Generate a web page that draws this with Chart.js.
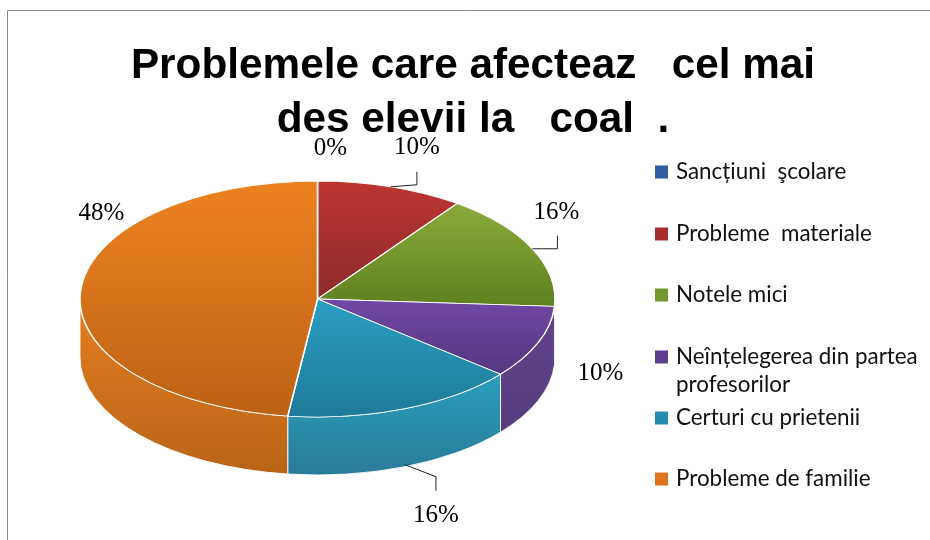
<!DOCTYPE html>
<html><head><meta charset="utf-8">
<style>html,body{margin:0;padding:0;background:#fff}canvas{display:block}</style>
<script src="https://cdn.jsdelivr.net/npm/chart.js@4"></script>
</head><body><canvas id="c" width="930" height="540"></canvas>
<script>
const titleLines = ["Problemele care afecteaz   cel mai", "des elevii la   coal  ."];
const categories = ["Sancțiuni  şcolare", "Probleme  materiale", "Notele mici", "Neînțelegerea din partea profesorilor", "Certuri cu prietenii", "Probleme de familie"];
const values = [0, 10, 16, 10, 16, 48];
const legendLines = [["Sancțiuni  şcolare"], ["Probleme  materiale"], ["Notele mici"], ["Neînțelegerea din partea", "profesorilor"], ["Certuri cu prietenii"], ["Probleme de familie"]];
const topStart = ["#2F5F9E", "#BE3530", "#8BAA3C", "#7048A6", "#2A9EC2", "#EE8220"];
const topEnd = ["#2F5F9E", "#8D2B2B", "#5F8020", "#553780", "#1F7A98", "#BC6214"];
const wallStart = ["#2F5F9E", "#8D2B2B", "#6A8A2A", "#62448E", "#2A9EBE", "#E67E22"];
const wallEnd = ["#2F5F9E", "#8D2B2B", "#5F8020", "#523A7A", "#2A7A98", "#B86418"];
const legendColors = ["#2F5F9E", "#A52F2E", "#76962E", "#5F4090", "#248CAC", "#DD7420"];

const PIE = {cx: 317.5, cy: 299, r: 237.5, squash: 118 / 237.5, depth: 58};
const labelOffsets = [[13, -33], [26, -39], [24, -36], [62, 31], [31, 107], [21, -78]];
const leaderOffsets = {1: [[0, 0], [26, -2], [26, -15]], 2: [[0, 0], [25, 0], [25, -13]], 4: [[0, 56], [31, 68], [31, 82]]};
const legendRowY = [172, 234, 295, 357, 418, 479];
const LEG = {boxX: 655, box: 13, textX: 676, lineH: 28, font: '22.4px Lato'};

function total(a) { return a.reduce((s, v) => s + v, 0); }
function sliceGradient(c) {
  const i = c.dataIndex, chart = c.chart, area = chart.chartArea;
  if (!area) return topStart[i];
  const sum = total(values);
  let before = 0;
  for (let k = 0; k < i; k++) before += values[k];
  const a0 = -Math.PI / 2 + before / sum * 2 * Math.PI;
  const a1 = a0 + values[i] / sum * 2 * Math.PI;
  let lo = Math.min(0, Math.sin(a0), Math.sin(a1)), hi = Math.max(0, Math.sin(a0), Math.sin(a1));
  if (a0 <= Math.PI / 2 && a1 >= Math.PI / 2) hi = 1;
  if (a0 <= 3 * Math.PI / 2 && a1 >= 3 * Math.PI / 2) lo = -1;
  const mid = (area.top + area.bottom) / 2;
  const g = chart.ctx.createLinearGradient(0, mid + lo * PIE.r, 0, mid + hi * PIE.r);
  g.addColorStop(0, topStart[i]);
  g.addColorStop(1, topEnd[i]);
  return g;
}

const pie3d = {
  id: 'pie3d',
  beforeDraw(chart) {
    const x = chart.ctx;
    x.save();
    x.strokeStyle = '#8a8a8a';
    x.lineWidth = 1;
    x.beginPath();
    x.moveTo(7.5, 540); x.lineTo(7.5, 10.5); x.lineTo(930, 10.5);
    x.stroke();
    x.restore();
  },
  beforeDatasetsDraw(chart) {
    const x = chart.ctx, arcs = chart.getDatasetMeta(0).data;
    const ry = PIE.r * PIE.squash;
    arcs.forEach((arc, i) => {
      if (!values[i]) return;
      const p = arc.getProps(['startAngle', 'endAngle', 'outerRadius'], true);
      const a = Math.max(p.startAngle, 0), b = Math.min(p.endAngle, Math.PI);
      if (b <= a) return;
      const top = PIE.cy + ry * Math.min(Math.sin(a), Math.sin(b));
      const g = x.createLinearGradient(0, top, 0, PIE.cy + ry + PIE.depth);
      g.addColorStop(0, wallStart[i]);
      g.addColorStop(1, wallEnd[i]);
      x.save();
      x.beginPath();
      x.ellipse(PIE.cx, PIE.cy, p.outerRadius, ry, 0, a, b);
      x.ellipse(PIE.cx, PIE.cy + PIE.depth, p.outerRadius, ry, 0, b, a, true);
      x.closePath();
      x.fillStyle = g;
      x.fill();
      x.strokeStyle = 'rgba(255,255,255,0.9)';
      x.lineWidth = 1;
      x.stroke();
      x.restore();
    });
    const c = arcs[0];
    x.save();
    x.translate(PIE.cx, PIE.cy);
    x.scale(1, PIE.squash);
    x.translate(-c.x, -c.y);
  },
  afterDatasetsDraw(chart) {
    const x = chart.ctx, arcs = chart.getDatasetMeta(0).data;
    x.restore();
    const ry = PIE.r * PIE.squash;
    arcs.forEach((arc, i) => {
      const p = arc.getProps(['startAngle', 'endAngle', 'outerRadius'], true);
      const m = (p.startAngle + p.endAngle) / 2;
      const ex = PIE.cx + p.outerRadius * Math.cos(m), ey = PIE.cy + ry * Math.sin(m);
      const lead = leaderOffsets[i];
      if (lead) {
        x.save();
        x.strokeStyle = '#222';
        x.lineWidth = 1;
        x.beginPath();
        lead.forEach((o, k) => k ? x.lineTo(ex + o[0], ey + o[1]) : x.moveTo(ex + o[0], ey + o[1]));
        x.stroke();
        x.restore();
      }
      x.save();
      x.font = '25px "Liberation Serif"';
      x.fillStyle = '#000';
      x.textAlign = 'center';
      x.textBaseline = 'middle';
      x.fillText(values[i] + '%', ex + labelOffsets[i][0], ey + labelOffsets[i][1]);
      x.restore();
    });
    x.save();
    legendLines.forEach((lines, i) => {
      const y = legendRowY[i];
      x.fillStyle = legendColors[i];
      x.fillRect(LEG.boxX, y - LEG.box / 2, LEG.box, LEG.box);
      x.font = LEG.font;
      x.fillStyle = '#111';
      x.textAlign = 'left';
      x.textBaseline = 'middle';
      lines.forEach((t, k) => x.fillText(t, LEG.textX, y + k * LEG.lineH));
    });
    x.restore();
  }
};

new Chart(document.getElementById('c'), {
  type: 'pie',
  data: {labels: categories, datasets: [{data: values, radius: PIE.r, backgroundColor: sliceGradient, borderColor: '#fff', borderWidth: 1.6}]},
  plugins: [pie3d],
  options: {
    responsive: false,
    animation: false,
    layout: {padding: {left: 16, right: 0, top: 0, bottom: 0}},
    plugins: {
      legend: {display: false},
      tooltip: {enabled: false},
      title: {display: true, text: titleLines, color: '#000', font: {family: 'Liberation Sans', weight: 'bold', size: 42.3, lineHeight: 1.28}, padding: {top: 39, bottom: 0}}
    }
  }
});
</script></body></html>
